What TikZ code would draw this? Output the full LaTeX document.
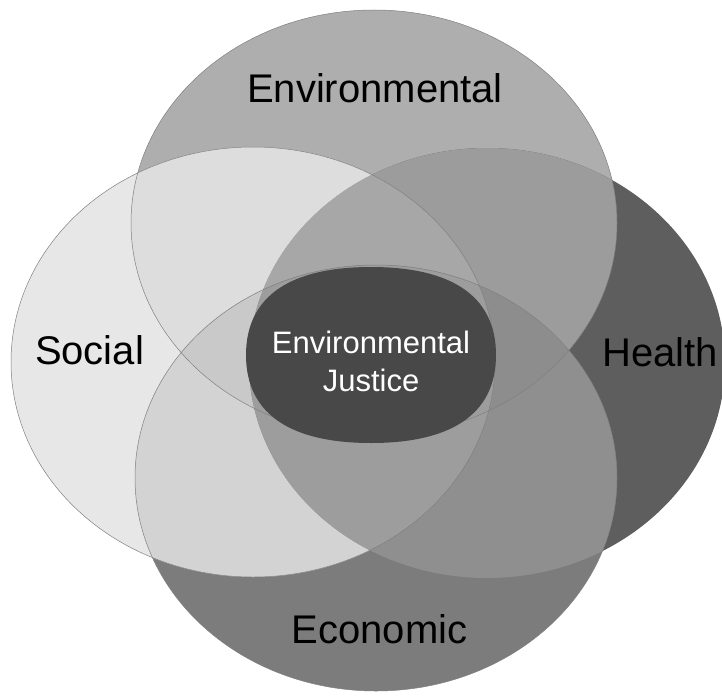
\documentclass[tikz,border=0pt]{standalone}
\usepackage{fontspec}
\setmainfont{Liberation Sans}

\definecolor{envgray}{HTML}{AEAEAE}
\definecolor{socgray}{HTML}{E7E7E7}
\definecolor{hlthgray}{HTML}{5E5E5E}
\definecolor{ecogray}{HTML}{7C7C7C}
\definecolor{envsocgray}{HTML}{DDDDDD}
\definecolor{envhlthgray}{HTML}{9C9C9C}
\definecolor{enveco}{HTML}{B8B8B8}
\definecolor{socecogray}{HTML}{D3D3D3}
\definecolor{sochlthgray}{HTML}{A8A8A8}
\definecolor{hlthecogray}{HTML}{8F8F8F}
\definecolor{envsoceco}{HTML}{C9C9C9}
\definecolor{envsochlth}{HTML}{A7A7A7}
\definecolor{envhltheco}{HTML}{8D8D8D}
\definecolor{sochltheco}{HTML}{9D9D9D}
\definecolor{justicegray}{HTML}{484848}

\tikzset{
  ringline/.style={draw=black!50, line width=0.5pt},
  bigtext/.style={font=\fontsize{40}{48}\selectfont, inner sep=0pt, text=black},
  ejtext/.style={font=\fontsize{31}{38}\selectfont, inner sep=0pt, text=white, align=center}
}

\def\envring{(374,223) ellipse [x radius=243, y radius=213]}
\def\socring{(253,362) ellipse [x radius=242, y radius=215]}
\def\hlthring{(487,363) ellipse [x radius=238, y radius=215]}
\def\ecoring{(376,478) ellipse [x radius=241, y radius=213]}

\begin{document}
\begin{tikzpicture}[x=1pt,y=1pt,yscale=-1,xscale=1]
\useasboundingbox (0,0) rectangle (722,698);

% Shape: Ellipses, one colour each
\fill[envgray] \envring;
\fill[hlthgray] \hlthring;
\fill[ecogray] \ecoring;
\fill[socgray] \socring;

% Two rings overlap
\begin{scope}
\clip \envring;
\fill[envsocgray] \socring;
\fill[envhlthgray] \hlthring;
\fill[enveco] \ecoring;
\end{scope}
\begin{scope}
\clip \socring;
\fill[socecogray] \ecoring;
\fill[sochlthgray] \hlthring;
\end{scope}
\begin{scope}
\clip \hlthring;
\fill[hlthecogray] \ecoring;
\end{scope}

% Three rings overlap
\begin{scope}
\clip \envring;
\clip \socring;
\fill[envsoceco] \ecoring;
\fill[envsochlth] \hlthring;
\end{scope}
\begin{scope}
\clip \hlthring;
\clip \ecoring;
\fill[envhltheco] \envring;
\fill[sochltheco] \socring;
\end{scope}

% Outlines
\draw[ringline] \envring;
\draw[ringline] \socring;
\draw[ringline] \ecoring;

% Shape: rounded centre where all four meet
\fill[justicegray] (496,355) .. controls (496,295) and (450,267) .. (371,267)
  .. controls (292,267) and (246,295) .. (246,355)
  .. controls (246,415) and (292,443) .. (371,443)
  .. controls (450,443) and (496,415) .. (496,355) -- cycle;

% Text Node
\node[bigtext] (envlabel) at (375,88) {Environmental};
% Text Node
\node[bigtext] (soclabel) at (89.5,350) {Social};
% Text Node
\node[bigtext] (hlthlabel) at (660,352.5) {Health};
% Text Node
\node[bigtext] (ecolabel) at (379.5,629) {Economic};
% Text Node
\node[ejtext] (ejlabel) at (371,361) {Environmental\\Justice};

\end{tikzpicture}
\end{document}
